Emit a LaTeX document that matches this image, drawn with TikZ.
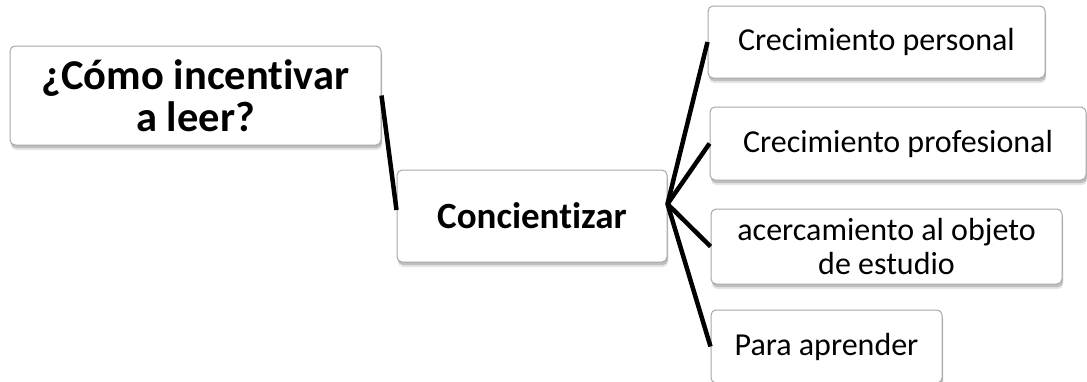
\documentclass[tikz,border=0pt]{standalone}
\usepackage{fontspec}
\setmainfont{Carlito}[RawFeature=-liga]
\usetikzlibrary{shadows}
\definecolor{boxline}{HTML}{A6A6A6}
\tikzset{
  box/.style={draw=boxline, line width=1pt, fill=white, rounded corners=5pt,
    align=center, inner sep=0pt,
    general shadow={shadow xshift=1pt, shadow yshift=-5pt, fill=black!20, opacity=0.5},
    general shadow={shadow xshift=1pt, shadow yshift=-3pt, fill=black!35, opacity=0.6}},
  bigtext/.style={font=\fontsize{42.5}{42}\selectfont\bfseries},
  midtext/.style={font=\fontsize{37}{40}\selectfont\bfseries},
  smalltext/.style={font=\fontsize{32}{34}\selectfont},
  link/.style={line width=4.5pt, line join=round}
}
\begin{document}
\begin{tikzpicture}[x=1pt,y=-1pt]
\useasboundingbox (0,0) rectangle (1087,381);
\node[box, bigtext, minimum width=371pt, minimum height=99pt] (A) at (195.5,95.5) {¿Cómo incentivar\\a leer?};
\node[box, midtext, minimum width=270pt, minimum height=92pt] (B) at (532,216) {Concientizar};
\node[box, smalltext, minimum width=337pt, minimum height=72pt] (C1) at (876.5,42) {Crecimiento personal};
\node[box, smalltext, minimum width=376pt, minimum height=73pt] (C2) at (898,143.5) {Crecimiento profesional};
\node[box, smalltext, minimum width=351pt, minimum height=75pt] (C3) at (886.5,246.5) {acercamiento al objeto\\de estudio};
\node[box, smalltext, minimum width=231pt, minimum height=73pt] (C4) at (826.5,346.5) {Para aprender};
\coordinate (hub) at ([yshift=12pt]B.east);
\draw[link] (A.east) -- ([yshift=6pt]B.west);
\draw[link] (C1.west) -- (hub) -- (C4.west);
\draw[link] (C2.west) -- (hub) -- (C3.west);
\end{tikzpicture}
\end{document}
